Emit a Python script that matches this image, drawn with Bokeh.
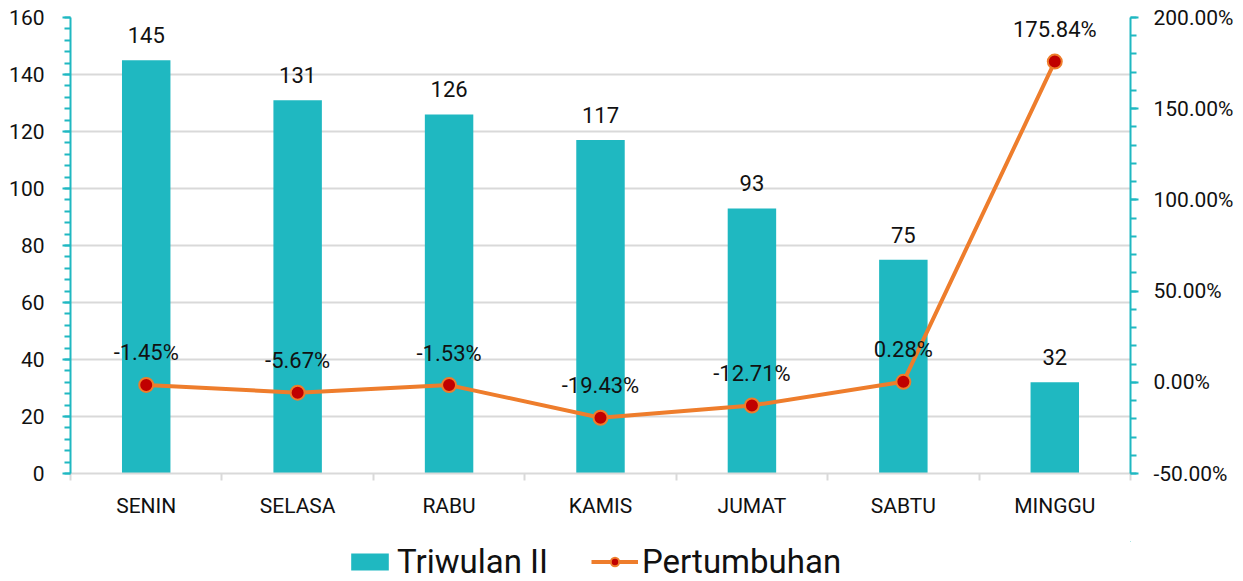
from bokeh.plotting import figure
from bokeh.layouts import column
from bokeh.models import (Range1d, LinearAxis, SingleIntervalTicker, FixedTicker,
                          PrintfTickFormatter, ColumnDataSource, Legend, LegendItem)
from bokeh.embed import file_html
from bokeh.resources import INLINE
from bokeh.core.properties import value

days = ["SENIN", "SELASA", "RABU", "KAMIS", "JUMAT", "SABTU", "MINGGU"]
triwulan = [145, 131, 126, 117, 93, 75, 32]
growth = [-1.45, -5.67, -1.53, -19.43, -12.71, 0.28, 175.84]
series_names = ["Triwulan II", "Pertumbuhan"]

TEAL = "#1FB8C1"
ORANGE = "#EE7D2C"
RED = "#C00000"
FONT = "Roboto"
TXT = "#111111"

W = 1243
MAIN_H = 541
LEG_H = 40

xpos = [i + 0.5 for i in range(len(days))]
src = ColumnDataSource(dict(
    x=xpos, v=triwulan, vlab=[str(v) for v in triwulan],
    g=growth, glab=[f"{g:.2f}%" for g in growth],
))

p = figure(width=W, height=MAIN_H, output_backend="svg", toolbar_location=None,
           x_range=Range1d(0, len(days)), y_range=Range1d(0, 160),
           min_border_left=70, min_border_right=113, min_border_top=17, min_border_bottom=68)
p.outline_line_color = None
p.extra_y_ranges = {"pct": Range1d(-50, 200)}

# x axis: labels at category centres, small gray ticks on category boundaries
xa = p.xaxis[0]
xa.ticker = FixedTicker(ticks=xpos, minor_ticks=list(range(len(days) + 1)))
xa.major_label_overrides = {float(x): d for x, d in zip(xpos, days)}
xa.axis_line_color = "#D9D9D9"
xa.axis_line_width = 2
xa.major_tick_out = 0
xa.major_tick_in = 0
xa.minor_tick_out = 7
xa.minor_tick_in = 0
xa.minor_tick_line_color = "#D9D9D9"
xa.minor_tick_line_width = 2
xa.major_label_standoff = 13
xa.major_label_text_font = FONT
xa.major_label_text_font_size = "21px"
xa.major_label_text_color = TXT


def style_y(ax):
    ax.axis_line_color = TEAL
    ax.axis_line_width = 2
    ax.major_tick_line_color = TEAL
    ax.major_tick_line_width = 2
    ax.minor_tick_line_color = TEAL
    ax.minor_tick_line_width = 2
    ax.major_tick_out = 8
    ax.major_tick_in = 0
    ax.minor_tick_out = 6
    ax.minor_tick_in = 0
    ax.major_label_text_font = FONT
    ax.major_label_text_font_size = "21px"
    ax.major_label_text_color = TXT


ya = p.yaxis[0]
ya.ticker = SingleIntervalTicker(interval=20, num_minor_ticks=5)
style_y(ya)
ya.major_label_standoff = 18

ra = LinearAxis(y_range_name="pct", ticker=SingleIntervalTicker(interval=50, num_minor_ticks=5),
                formatter=PrintfTickFormatter(format="%.2f%%"))
style_y(ra)
ra.major_label_standoff = 15
p.add_layout(ra, "right")

p.xgrid.visible = False
p.ygrid.grid_line_color = "#D9D9D9"
p.ygrid.grid_line_width = 2

p.vbar(x="x", top="v", width=0.32, source=src, fill_color=TEAL, line_color=None)
p.line(x="x", y="g", source=src, y_range_name="pct", line_color=ORANGE, line_width=4)
p.scatter(x="x", y="g", source=src, y_range_name="pct", size=14,
          fill_color=RED, line_color=ORANGE, line_width=2)

p.text(x="x", y="v", text="vlab", source=src, text_align="center", text_baseline="alphabetic",
       y_offset=-25, text_font=value(FONT), text_font_size="22px", text_color=TXT)
p.text(x="x", y="g", text="glab", source=src, y_range_name="pct", text_align="center",
       text_baseline="alphabetic", y_offset=-32, text_font=value(FONT),
       text_font_size="22px", text_color=TXT)

# legend strip below the chart (same data, ranges chosen so only the legend shows)
lf = figure(width=W, height=LEG_H, output_backend="svg", toolbar_location=None,
            x_range=Range1d(-20, -19), y_range=Range1d(-1000, -999),
            x_axis_location=None, y_axis_location=None,
            min_border=0, min_border_left=0, min_border_right=0,
            min_border_top=0, min_border_bottom=0)
lf.grid.visible = False
lf.outline_line_color = None
lb = lf.vbar(x="x", top="v", width=0.32, source=src, fill_color=TEAL, line_color=None)
ll = lf.line(x="x", y="g", source=src, line_color=ORANGE, line_width=4)
ls = lf.scatter(x="x", y="g", source=src, size=14, fill_color=RED, line_color=ORANGE, line_width=2)

legend = Legend(items=[LegendItem(label=series_names[0], renderers=[lb]),
                       LegendItem(label=series_names[1], renderers=[ll, ls])],
                location=(276, 0), orientation="horizontal",
                border_line_color=None, background_fill_alpha=0,
                padding=0, margin=0, spacing=43, glyph_width=47, glyph_height=21,
                label_standoff=4, label_text_font=FONT, label_text_font_size="33px",
                label_text_color=TXT)
lf.add_layout(legend, "center")

open("out.html", "w").write(file_html(column(p, lf, spacing=0), INLINE))
